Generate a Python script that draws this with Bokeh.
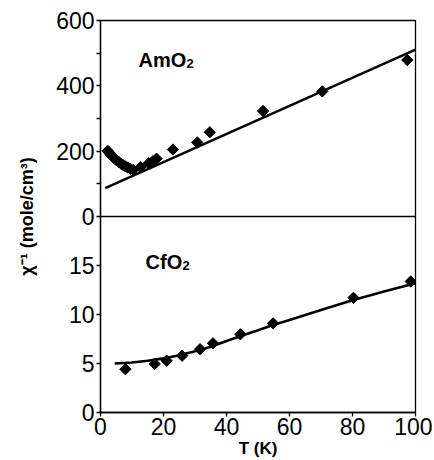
from bokeh.plotting import figure
from bokeh.models import Range1d, FixedTicker, Span, Label
from bokeh.embed import file_html
from bokeh.resources import INLINE
import math

# ---------------- data ----------------
am_T = [2.3, 2.7, 3.1, 3.5, 3.9, 4.4, 4.9, 5.4, 5.9, 6.5, 7.1, 7.8, 8.6, 9.5,
        10.4, 12.7, 15.3, 16.6, 17.8, 23.0, 30.7, 34.7, 51.6, 70.4, 97.4]
am_val = [201, 196, 191, 186, 182, 178, 174, 170, 166, 162, 158, 154, 150, 146,
          143, 151, 163, 169, 177, 205, 227, 258, 323, 383, 479]
am_fit_T = [1.5, 100]
am_fit = [87, 511]

cf_T = [7.9, 17.2, 21.0, 25.9, 31.6, 35.7, 44.4, 54.8, 80.3, 98.5]
cf_val = [4.42, 4.95, 5.28, 5.79, 6.46, 7.06, 7.98, 9.1, 11.7, 13.37]
cf_fit_T = [4.5, 10, 15, 20, 25, 30, 35, 40, 45, 50, 55, 60, 70, 80, 90, 100]
cf_fit = [5.0, 5.1, 5.28, 5.52, 5.85, 6.25, 6.7, 7.3, 7.85, 8.4, 8.95, 9.45,
          10.45, 11.45, 12.35, 13.2]

x_ticks = [0, 20, 40, 60, 80, 100]
am_ticks = [0, 200, 400, 600]
am_minor = [100, 300, 500]
cf_ticks = [0, 5, 10, 15]

# ---------------- ranges ----------------
AM_START, AM_END = -600, 600
CF_START, CF_END = 0, 40

def cf_to_am(c):
    return AM_START + (c - CF_START) * (AM_END - AM_START) / (CF_END - CF_START)

FONT = "Liberation Sans"

p = figure(width=432, height=460, output_backend="svg", toolbar_location=None,
           x_range=Range1d(0, 100), y_range=Range1d(AM_START, AM_END),
           min_border_left=100, min_border_right=17, min_border_top=20,
           min_border_bottom=46, x_axis_location="below")
p.extra_y_ranges = {"cf": Range1d(CF_START, CF_END)}

p.grid.visible = False
p.outline_line_color = "black"
p.outline_line_width = 1.3
p.background_fill_color = "white"
p.border_fill_color = "white"

# x axis
xa = p.xaxis[0]
xa.ticker = FixedTicker(ticks=x_ticks)
xa.axis_label = "T (K)"
xa.axis_label_text_font = FONT
xa.axis_label_text_font_style = "bold"
xa.axis_label_text_font_size = "17px"
xa.axis_label_text_color = "black"
xa.axis_label_standoff = 1
xa.major_label_text_font = FONT
xa.major_label_text_font_size = "23px"
xa.major_label_text_color = "black"
xa.major_label_standoff = 1
xa.major_tick_out = 4
xa.major_tick_in = 0
xa.minor_tick_out = 0
xa.minor_tick_in = 0
xa.axis_line_width = 1.3
xa.major_tick_line_width = 1.3

# y axis (shared: lower half CfO2, upper half AmO2)
ya = p.yaxis[0]
cf_pos = [cf_to_am(c) for c in cf_ticks]
ya.ticker = FixedTicker(ticks=cf_pos + am_ticks, minor_ticks=am_minor)
ya.major_label_overrides = {pos: str(c) for pos, c in zip(cf_pos, cf_ticks)}
ya.axis_label = "χ⁻¹ (mole/cm³)"
ya.axis_label_text_font = FONT
ya.axis_label_text_font_style = "bold"
ya.axis_label_text_font_size = "18px"
ya.axis_label_text_color = "black"
ya.axis_label_standoff = 16
ya.major_label_text_font = FONT
ya.major_label_text_font_size = "23px"
ya.major_label_text_color = "black"
ya.major_label_standoff = 2
ya.major_tick_out = 4
ya.major_tick_in = 0
ya.minor_tick_out = 4
ya.minor_tick_in = 0
ya.axis_line_width = 1.3
ya.major_tick_line_width = 1.3
ya.minor_tick_line_width = 1.3

# divider
p.add_layout(Span(location=0, dimension="width", line_color="black", line_width=1.3))

# AmO2
p.line(am_fit_T, am_fit, line_color="black", line_width=2.6)
p.scatter(am_T, am_val, marker="square", angle=math.pi / 4, size=8,
          fill_color="black", line_color="black")

# CfO2
p.line(cf_fit_T, cf_fit, line_color="black", line_width=2.6, y_range_name="cf")
p.scatter(cf_T, cf_val, marker="square", angle=math.pi / 4, size=8,
          fill_color="black", line_color="black", y_range_name="cf")

# panel labels
def chem_label(x, y, base, sub, base_w, y_range_name="default"):
    p.add_layout(Label(x=x, y=y, text=base, text_font=FONT, text_font_style="bold",
                       text_font_size="20px", text_color="black",
                       text_baseline="alphabetic", y_range_name=y_range_name))
    p.add_layout(Label(x=x, y=y, x_offset=base_w, y_offset=-4, text=sub,
                       text_font=FONT, text_font_style="bold", text_color="black",
                       text_font_size="13px", text_baseline="alphabetic",
                       y_range_name=y_range_name))

chem_label(12.1, 480, "AmO", "2", 48)
chem_label(14.3, 15.4, "CfO", "2", 37, "cf")

open("out.html", "w").write(file_html(p, INLINE))
